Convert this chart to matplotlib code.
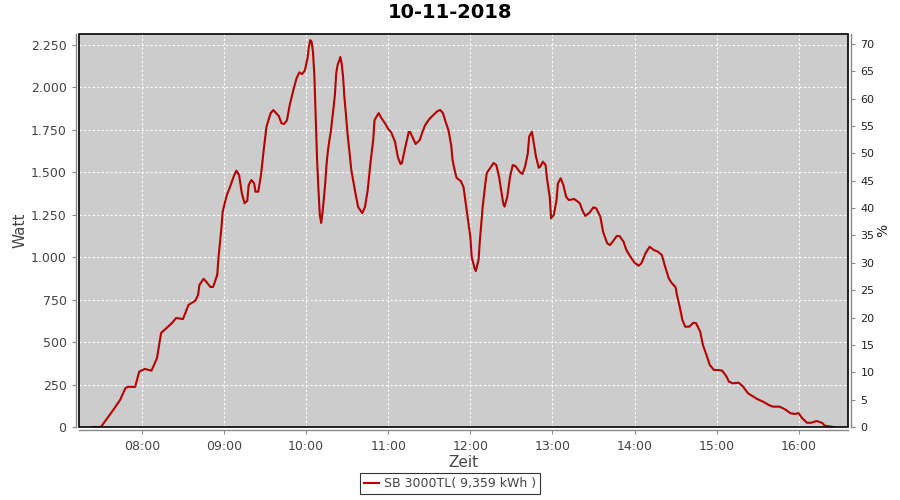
import matplotlib
matplotlib.use("Agg")
from matplotlib import pyplot as plt
from matplotlib.patches import Rectangle
from matplotlib.ticker import FuncFormatter, FixedLocator, MultipleLocator


title = "10-11-2018"
series_name = "SB 3000TL( 9,359 kWh )"

times = [
	"07:24", "07:30", "07:39", "07:44", "07:48", "07:50", "07:55", "07:58",
	"08:02", "08:07", "08:11", "08:14", "08:18", "08:22", "08:25", "08:30",
	"08:34", "08:39", "08:41", "08:42", "08:45", "08:47", "08:50", "08:52",
	"08:55", "08:56", "08:58", "08:59", "09:02", "09:04", "09:07", "09:09",
	"09:11", "09:13", "09:15", "09:17", "09:18", "09:20", "09:22", "09:23",
	"09:25", "09:27", "09:29", "09:31", "09:34", "09:36", "09:40", "09:42",
	"09:44", "09:46", "09:48", "09:51", "09:53", "09:55", "09:57", "09:59",
	"10:01", "10:02", "10:03", "10:04", "10:05", "10:06", "10:07", "10:08",
	"10:09", "10:10", "10:11", "10:12", "10:13", "10:14", "10:15", "10:16",
	"10:17", "10:18", "10:19", "10:20", "10:21", "10:22", "10:23", "10:24",
	"10:25", "10:26", "10:27", "10:28", "10:29", "10:30", "10:33", "10:36",
	"10:38", "10:41", "10:43", "10:45", "10:47", "10:49", "10:50", "10:53",
	"10:55", "10:58", "11:00", "11:02", "11:05", "11:07", "11:09", "11:10",
	"11:12", "11:15", "11:16", "11:18", "11:20", "11:23", "11:25", "11:27",
	"11:30", "11:33", "11:36", "11:38", "11:40", "11:42", "11:44", "11:46",
	"11:47", "11:49", "11:50", "11:53", "11:55", "11:56", "11:58", "12:00",
	"12:01", "12:03", "12:04", "12:06", "12:07", "12:09", "12:11", "12:12",
	"12:15", "12:17", "12:19", "12:21", "12:24", "12:25", "12:27", "12:29",
	"12:31", "12:33", "12:36", "12:38", "12:40", "12:42", "12:43", "12:45",
	"12:46", "12:48", "12:50", "12:51", "12:53", "12:55", "12:56", "12:58",
	"12:59", "13:01", "13:03", "13:04", "13:06", "13:08", "13:10", "13:12",
	"13:16", "13:20", "13:22", "13:24", "13:27", "13:30", "13:32", "13:35",
	"13:37", "13:40", "13:42", "13:44", "13:47", "13:49", "13:52", "13:54",
	"13:57", "14:00", "14:03", "14:05", "14:08", "14:11", "14:14", "14:17",
	"14:20", "14:22", "14:25", "14:27", "14:30", "14:31", "14:33", "14:35",
	"14:37", "14:40", "14:43", "14:45", "14:48", "14:50", "14:53", "14:55",
	"14:58", "15:01", "15:04", "15:07", "15:09", "15:12", "15:16", "15:19",
	"15:23", "15:27", "15:30", "15:34", "15:38", "15:41", "15:46", "15:50",
	"15:54", "15:57", "16:00", "16:02", "16:06", "16:09", "16:13", "16:17",
	"16:19", "16:25",
]

watts = [
	0, 0, 100, 159, 230, 237, 236, 326,
	342, 332, 406, 554, 583, 613, 642, 636,
	719, 744, 777, 836, 873, 856, 825, 825,
	895, 1003, 1166, 1268, 1366, 1406, 1474, 1510,
	1484, 1377, 1318, 1333, 1425, 1455, 1435, 1386,
	1386, 1484, 1632, 1769, 1848, 1867, 1832, 1789,
	1785, 1808, 1897, 1995, 2054, 2089, 2079, 2099,
	2172, 2240, 2279, 2268, 2209, 2073, 1826, 1573,
	1396, 1249, 1202, 1266, 1349, 1443, 1555, 1632,
	1690, 1738, 1808, 1879, 1955, 2085, 2132, 2156,
	2179, 2138, 2062, 1938, 1849, 1749, 1514, 1378,
	1296, 1260, 1296, 1396, 1555, 1690, 1808, 1849,
	1820, 1785, 1755, 1738, 1679, 1590, 1549, 1555,
	1632, 1738, 1738, 1702, 1667, 1690, 1738, 1779,
	1814, 1838, 1861, 1867, 1849, 1796, 1749, 1661,
	1573, 1496, 1467, 1449, 1414, 1355, 1237, 1119,
	1001, 937, 919, 984, 1101, 1296, 1437, 1496,
	1531, 1555, 1543, 1473, 1318, 1298, 1356, 1474,
	1543, 1537, 1504, 1490, 1533, 1612, 1710, 1739,
	1690, 1592, 1527, 1533, 1563, 1543, 1465, 1356,
	1229, 1249, 1337, 1435, 1465, 1425, 1356, 1337,
	1343, 1318, 1274, 1243, 1262, 1294, 1288, 1239,
	1150, 1082, 1072, 1091, 1125, 1125, 1091, 1043,
	1003, 968, 950, 964, 1023, 1062, 1043, 1033,
	1013, 954, 876, 850, 823, 777, 709, 630,
	591, 591, 614, 611, 561, 483, 414, 365,
	336, 336, 332, 300, 267, 257, 261, 241,
	198, 178, 163, 149, 130, 120, 120, 104,
	81, 77, 81, 57, 25, 25, 35, 25,
	8, 0,
]

hour_ticks = ["08:00", "09:00", "10:00", "11:00", "12:00", "13:00", "14:00", "15:00", "16:00"]


def to_hours(s):
	h, m = s.split(":")
	return int(h) + int(m) / 60.0


x = [to_hours(t) for t in times]

fig = plt.figure(figsize=(9, 5), dpi=100)
ax = fig.add_axes([79 / 900, 1 - 427 / 500, 769 / 900, 393 / 500])
ax.set_facecolor("#cccccc")

line, = ax.plot(x, watts, color="#b40000", lw=1.5, label=series_name)

ax.set_xlim(to_hours("07:14"), to_hours("16:36"))
ax.set_ylim(0, 2315)

ax.xaxis.set_major_locator(FixedLocator([to_hours(t) for t in hour_ticks]))
ax.set_xticklabels(hour_ticks)
ax.yaxis.set_major_locator(MultipleLocator(250))
ax.yaxis.set_major_formatter(FuncFormatter(lambda v, p: f"{int(v):,}".replace(",", ".")))

ax.grid(True, color="white", linestyle=(0, (2, 2)), linewidth=0.8)
ax.set_axisbelow(True)

ax2 = ax.twinx()
ax2.set_ylim(0, 71.8)
ax2.yaxis.set_major_locator(MultipleLocator(5))

for a in (ax, ax2):
	for s in a.spines.values():
		s.set_visible(False)
ax.spines["left"].set_visible(True)
ax.spines["bottom"].set_visible(True)
ax2.spines["right"].set_visible(True)
for s in (ax.spines["left"], ax.spines["bottom"], ax2.spines["right"]):
	s.set_position(("outward", 2.5))
	s.set_color("#888888")
	s.set_linewidth(1)

ax.add_patch(Rectangle((0, 0), 1, 1, transform=ax.transAxes, fill=False,
	edgecolor="black", lw=1.2, clip_on=False, zorder=5))

ax.tick_params(axis="both", colors="#888888", labelcolor="#444444", labelsize=9, length=3)
ax2.tick_params(axis="y", colors="#888888", labelcolor="#222222", labelsize=8, length=3)

ax.set_xlabel("Zeit", fontsize=11, color="#444444", labelpad=2)
ax.set_ylabel("Watt", fontsize=11, color="#444444", labelpad=2)
ax2.set_ylabel("%", fontsize=10, color="#222222", labelpad=1)

fig.suptitle(title, x=0.5, y=0.995, fontsize=14, fontweight="bold")

leg = fig.legend(handles=[line], loc="lower center", bbox_to_anchor=(0.5, 0.0),
	frameon=True, fancybox=False, fontsize=9, handlelength=1.2, handletextpad=0.4,
	borderpad=0.3, labelcolor="#444444")
leg.get_frame().set_edgecolor("black")
leg.get_frame().set_linewidth(0.8)

fig.savefig("out.png", dpi=100)
